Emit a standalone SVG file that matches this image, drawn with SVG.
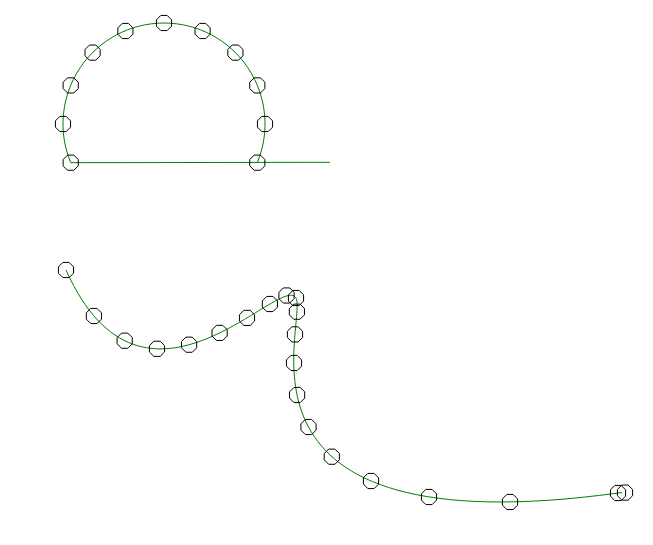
<svg xmlns="http://www.w3.org/2000/svg" xmlns:xlink="http://www.w3.org/1999/xlink" width="653" height="545" viewBox="0 0 653 545">
<style>
.curve{fill:none;stroke:#008000;stroke-width:1}
.oct{fill:none;stroke:#000;stroke-width:1}
</style>
<defs>
<polygon id="o" class="oct" points="7.58,3.14 3.14,7.58 -3.14,7.58 -7.58,3.14 -7.58,-3.14 -3.14,-7.58 3.14,-7.58 7.58,-3.14"/>
</defs>
<rect width="653" height="545" fill="#fff"/>
<g id="connectors">
<path class="curve" d="M70.7,162.7 A101,101 0 1 1 257.3,162.7"/>
<path class="curve" d="M70.7,162.7 L330,162.3"/>
<path class="curve" d="M66,270 C144,444 281,272 296,298 C308,326 210,549 618,493 L622,492.6"/>
</g>
<g id="top-markers">
<use xlink:href="#o" x="70.7" y="162.7"/>
<use xlink:href="#o" x="63" y="124"/>
<use xlink:href="#o" x="70.7" y="85.4"/>
<use xlink:href="#o" x="92.6" y="52.6"/>
<use xlink:href="#o" x="125.4" y="31"/>
<use xlink:href="#o" x="164" y="23"/>
<use xlink:href="#o" x="202.6" y="31"/>
<use xlink:href="#o" x="235.4" y="52.6"/>
<use xlink:href="#o" x="257.3" y="85.4"/>
<use xlink:href="#o" x="265" y="124"/>
<use xlink:href="#o" x="257.3" y="162.7"/>
</g>
<g id="bottom-markers">
<use xlink:href="#o" x="66" y="270"/>
<use xlink:href="#o" x="93.9" y="316"/>
<use xlink:href="#o" x="124.7" y="340.7"/>
<use xlink:href="#o" x="157" y="348.8"/>
<use xlink:href="#o" x="189.1" y="344.7"/>
<use xlink:href="#o" x="219.6" y="332.9"/>
<use xlink:href="#o" x="247" y="317.9"/>
<use xlink:href="#o" x="269.9" y="304"/>
<use xlink:href="#o" x="286.5" y="295.5"/>
<use xlink:href="#o" x="296" y="298"/>
<use xlink:href="#o" x="296.9" y="311.7"/>
<use xlink:href="#o" x="295" y="334.4"/>
<use xlink:href="#o" x="294" y="363"/>
<use xlink:href="#o" x="297.1" y="395"/>
<use xlink:href="#o" x="308.5" y="427"/>
<use xlink:href="#o" x="331.8" y="456.7"/>
<use xlink:href="#o" x="371" y="481"/>
<use xlink:href="#o" x="429" y="497"/>
<use xlink:href="#o" x="510" y="502"/>
<use xlink:href="#o" x="618" y="493"/>
<use xlink:href="#o" x="625" y="492.6"/>
</g>
</svg>
